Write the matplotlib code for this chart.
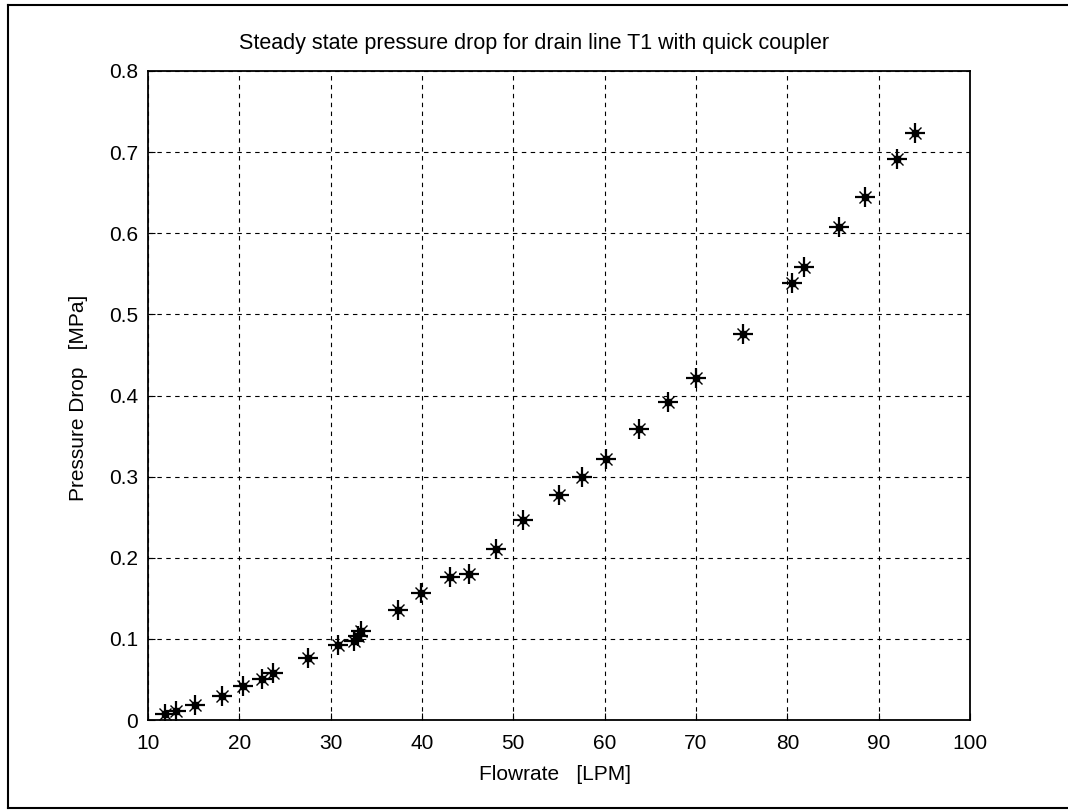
import matplotlib
matplotlib.use("Agg")
import matplotlib.pyplot as plt
from matplotlib.lines import Line2D

flowrate = [11.9, 13.1, 15.2, 18.1, 20.4, 22.5, 23.7, 27.5, 30.8, 32.6, 33.0, 33.3,
            37.4, 39.9, 43.1, 45.1, 48.1, 51.1, 55.0, 57.5, 60.1, 63.8, 66.9, 70.0,
            75.2, 80.5, 81.8, 85.7, 88.5, 92.0, 94.0]
pressure = [0.007, 0.011, 0.018, 0.030, 0.042, 0.051, 0.058, 0.077, 0.092, 0.097, 0.103, 0.110,
            0.136, 0.156, 0.176, 0.180, 0.211, 0.246, 0.277, 0.299, 0.322, 0.359, 0.392, 0.422,
            0.476, 0.539, 0.558, 0.608, 0.645, 0.691, 0.724]

xticks = [10, 20, 30, 40, 50, 60, 70, 80, 90, 100]
yticks = [0, 0.1, 0.2, 0.3, 0.4, 0.5, 0.6, 0.7, 0.8]
ytick_labels = ["0", "0.1", "0.2", "0.3", "0.4", "0.5", "0.6", "0.7", "0.8"]

title = 'Steady state pressure drop for drain line T1 with quick coupler'
xlabel = 'Flowrate   [LPM]'
ylabel = 'Pressure Drop   [MPa]'

plt.rcParams['font.family'] = ['Liberation Sans', 'DejaVu Sans']

W, H = 1068, 811
fig = plt.figure(figsize=(W / 100, H / 100), dpi=100)
ax = fig.add_axes([148 / W, 1 - 720 / H, (970 - 148) / W, (720 - 71) / H])

# MATLAB-style '*' marker: plus + cross with a dark centre
ax.plot(flowrate, pressure, linestyle='none', marker='+', color='black',
        markersize=14, markeredgewidth=1.6)
ax.plot(flowrate, pressure, linestyle='none', marker='x', color='black',
        markersize=9, markeredgewidth=1.0)
ax.plot(flowrate, pressure, linestyle='none', marker='s', color='black',
        markersize=4)

ax.set_xlim(10, 100)
ax.set_ylim(0, 0.8)
ax.set_xticks(xticks)
ax.set_xticklabels([str(t) for t in xticks])
ax.set_yticks(yticks)
ax.set_yticklabels(ytick_labels)
ax.grid(True, color='black', linestyle=(0, (4, 4)), linewidth=0.8)
ax.tick_params(direction='in', length=5, labelsize=15, colors='black')
ax.tick_params(axis='x', pad=10)
ax.tick_params(axis='y', pad=7)
for s in ax.spines.values():
    s.set_linewidth(1.3)
    s.set_color('black')

fig.text(534 / W, 1 - 43 / H, title, fontsize=15.5, ha='center', va='center')
fig.text(555 / W, 1 - 775 / H, xlabel, fontsize=15, ha='center', va='center')
fig.text(78 / W, 1 - 398 / H, ylabel, fontsize=15, ha='center', va='center',
         rotation=90)

# outer scanned frame
for xs, ys in [([8 / W, 8 / W], [1 - 5 / H, 1 - 808 / H]),
               ([8 / W, 1.0], [1 - 5 / H, 1 - 5 / H]),
               ([8 / W, 1.0], [1 - 808 / H, 1 - 808 / H])]:
    fig.add_artist(Line2D(xs, ys, transform=fig.transFigure, color='black', linewidth=1.5))

fig.savefig('out.png', dpi=100)
